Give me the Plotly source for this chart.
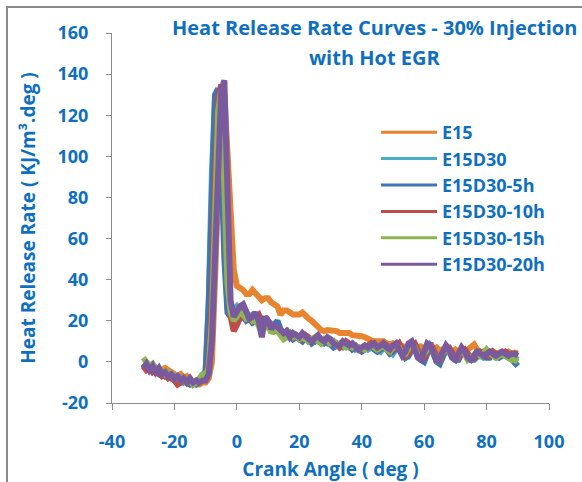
import plotly.graph_objects as go

crank_angle = list(range(-30, 91))

series_names = ["E15", "E15D30", "E15D30-5h", "E15D30-10h", "E15D30-15h", "E15D30-20h"]
series_colors = ["#E8832F", "#4BACC6", "#3F74B5", "#BE4B48", "#8DB553", "#7A5A9E"]

hrr_e15 = [
    -2, -3, -2, -4, -3, -5, -4, -3, -4, -5, -6, -7, -6, -8, -7, -9, -10, -11, -11, -10,
    -10, -8, 0, 40, 95, 128, 130, 105, 75, 45,
    37, 36, 35, 33, 33, 35, 33, 31, 30, 31,
    31, 29, 28, 27, 23, 25, 25, 24, 23, 23,
    23, 24, 22, 21, 20, 18, 17, 15.5, 15, 15.5,
    15.5, 15, 15, 14, 14, 13.5, 14, 13, 13, 13,
    12.5, 12, 11, 10.5, 10, 10, 9.5, 10, 9, 8.5,
    9, 8, 8.5, 8, 7, 8, 9, 7, 7, 7.5,
    6.5, 7, 7, 6, 7, 5.5, 6, 7, 6.5, 5,
    6, 5, 5.5, 5, 6, 7, 8.5, 6, 4, 5,
    5, 4.5, 5, 4, 4.5, 5, 4.5, 5, 4, 4.5,
    4,
]

hrr_e15d30 = [
    -1, -3, -2, -4, -5, -4, -6, -5, -7, -8, -7, -9, -8, -10, -9, -10, -11, -10, -9, -8,
    -4, 30, 92, 128, 132, 98, 48, 26, 24, 26,
    27, 25, 23, 24, 22, 23, 21, 20, 21, 19,
    20, 18, 17, 19, 15, 14, 13, 14, 12, 13,
    12, 11, 12, 10, 11, 10, 11, 9, 10, 9,
    10, 8, 9, 8, 7, 8, 7, 8, 6, 7,
    6, 7, 6, 7, 8, 6, 5, 7, 8, 6,
    4, 6, 8, 7, 4, 3, 6, 8, 6, 2,
    1, 5, 8, 6, 2, 0, 3, 6, 5, 2,
    1, 3, 5, 4, 2, 2, 3, 4, 3, 2,
    3, 4, 3, 2, 3, 4, 3, 2, 3, 2,
    1,
]

hrr_e15d30_5h = [
    -3, -2, -4, -3, -5, -6, -5, -7, -6, -8, -9, -8, -10, -9, -10, -11, -10, -11, -10, -8,
    -5, 28, 88, 130, 133, 100, 50, 24, 22, 24,
    23, 21, 22, 20, 21, 19, 20, 18, 17, 18,
    17, 16, 18, 20, 16, 13, 12, 13, 11, 12,
    11, 10, 12, 11, 9, 10, 11, 10, 9, 10,
    8, 7, 8, 7, 8, 9, 8, 6, 7, 6,
    5, 6, 7, 8, 6, 5, 6, 7, 6, 4,
    5, 7, 8, 5, 2, 3, 7, 8, 4, 1,
    0, 4, 8, 5, 0, -1, 3, 6, 6, 3,
    1, 1, 4, 5, 3, 1, 1, 3, 4, 3,
    2, 2, 4, 3, 2, 3, 4, 3, 1, 0,
    -2,
]

hrr_e15d30_10h = [
    -2, -4, -3, -5, -4, -6, -7, -6, -8, -7, -9, -11, -10, -8, -10, -9, -11, -10, -9, -9,
    -8, 0, 30, 90, 128, 135, 95, 40, 22, 15,
    18, 22, 25, 23, 21, 20, 22, 23, 19, 18,
    20, 17, 15, 16, 14, 13, 15, 14, 12, 13,
    12, 11, 13, 12, 10, 11, 12, 10, 11, 10,
    9, 10, 9, 7, 8, 10, 9, 7, 8, 7,
    6, 7, 8, 9, 7, 6, 7, 9, 8, 5,
    6, 8, 9, 6, 3, 4, 8, 9, 5, 2,
    2, 6, 9, 6, 2, 1, 4, 7, 7, 4,
    2, 2, 5, 6, 4, 2, 2, 4, 5, 4,
    3, 3, 5, 4, 3, 4, 5, 4, 3, 4,
    4,
]

hrr_e15d30_15h = [
    2, 0, -2, -1, -4, -3, -5, -6, -5, -7, -8, -7, -9, -8, -10, -9, -11, -10, -8, -6,
    -6, -3, 20, 75, 122, 132, 92, 38, 24, 20,
    22, 24, 23, 21, 22, 20, 21, 18, 14, 17,
    19, 14, 16, 15, 13, 11, 12, 13, 12, 13,
    11, 12, 11, 10, 11, 12, 10, 9, 11, 10,
    9, 10, 8, 9, 8, 7, 8, 7, 8, 6,
    7, 6, 7, 8, 7, 6, 7, 8, 6, 5,
    7, 8, 7, 4, 4, 7, 9, 7, 3, 2,
    4, 7, 8, 4, 1, 2, 5, 7, 5, 2,
    1, 3, 6, 4, 1, 2, 4, 5, 3, 4,
    6, 4, 3, 2, 3, 4, 3, 2, 1, 1,
    0,
]

hrr_e15d30_20h = [
    -3, -1, -4, -2, -5, -3, -6, -5, -7, -6, -8, -7, -9, -8, -10, -8, -10, -9, -10, -9,
    -9, -6, 10, 55, 105, 132, 137, 82, 30, 22,
    25, 27, 28, 24, 21, 22, 24, 20, 12, 22,
    20, 16, 18, 17, 15, 14, 15, 12, 14, 13,
    12, 14, 12, 11, 10, 12, 13, 11, 10, 12,
    11, 9, 8, 8, 10, 9, 8, 9, 7, 6,
    7, 8, 7, 8, 9, 7, 8, 9, 7, 6,
    8, 9, 6, 3, 5, 9, 10, 6, 2, 1,
    5, 9, 8, 3, 0, 2, 6, 8, 6, 2,
    1, 4, 7, 5, 2, 1, 3, 5, 4, 3,
    4, 5, 4, 3, 4, 5, 4, 3, 4, 4,
    3,
]

series_values = [hrr_e15, hrr_e15d30, hrr_e15d30_5h, hrr_e15d30_10h, hrr_e15d30_15h, hrr_e15d30_20h]

x_tick_vals = [-40, -20, 0, 20, 40, 60, 80, 100]
y_tick_vals = [-20, 0, 20, 40, 60, 80, 100, 120, 140, 160]

title_line1 = "Heat Release Rate Curves - 30% Injection"
title_line2 = "with Hot EGR"
x_title = "Crank Angle ( deg )"
y_title = "Heat Release Rate ( KJ/m³.deg )"

TEXT = "#0F6FBF"
FONT = "Open Sans"
AXIS = "#8C8C8C"

fig = go.Figure()
for name, color, vals in zip(series_names, series_colors, series_values):
    fig.add_trace(go.Scatter(
        x=crank_angle, y=vals, mode="lines", name=name,
        line=dict(color=color, width=6), showlegend=False, hoverinfo="skip",
    ))
for name, color in zip(series_names, series_colors):
    fig.add_trace(go.Scatter(
        x=[None], y=[None], mode="lines", name=name,
        line=dict(color=color, width=3), showlegend=True,
    ))

W, H = 582, 482
L, R, T, B = 112, 33, 33, 79
pw, ph = W - L - R, H - T - B

def px(xp):
    return (xp - L) / pw

def py(yp):
    return (H - B - yp) / ph

def bold(size):
    return dict(family=FONT, size=size, color=TEXT, weight="bold")

fig.update_layout(
    width=W, height=H,
    margin=dict(l=L, r=R, t=T, b=B, autoexpand=False),
    paper_bgcolor="white", plot_bgcolor="white",
    font=dict(family=FONT, color=TEXT, size=18),
    showlegend=True,
    legend=dict(
        x=px(376), y=py(114), xanchor="left", yanchor="top",
        bgcolor="rgba(0,0,0,0)", borderwidth=0,
        font=bold(18), itemwidth=56,
    ),
    xaxis=dict(
        range=[-40, 100], tickvals=x_tick_vals, ticktext=[str(v) for v in x_tick_vals],
        showgrid=False, zeroline=False, showline=True, linecolor=AXIS, linewidth=1,
        ticks="outside", ticklen=6, tickcolor=AXIS, ticklabelstandoff=16,
        tickfont=bold(18), automargin=False,
        title=dict(text=x_title, font=bold(19), standoff=13),
    ),
    yaxis=dict(
        range=[-20, 160], tickvals=y_tick_vals, ticktext=[str(v) for v in y_tick_vals],
        showgrid=False, zeroline=False, showline=True, linecolor=AXIS, linewidth=1,
        ticks="outside", ticklen=5, tickcolor=AXIS, ticklabelstandoff=14,
        tickfont=bold(18), automargin=False,
        title=dict(text=y_title, font=bold(19), standoff=16),
    ),
    annotations=[
        dict(text=title_line1, x=px(374), y=py(28), xref="paper", yref="paper",
             showarrow=False, xanchor="center", yanchor="middle", font=bold(20)),
        dict(text=title_line2, x=px(374), y=py(58), xref="paper", yref="paper",
             showarrow=False, xanchor="center", yanchor="middle", font=bold(20)),
    ],
    shapes=[
        dict(type="rect", xref="paper", yref="paper",
             x0=px(7), x1=px(600), y0=py(500), y1=py(7),
             line=dict(color="#8A8A8A", width=2), fillcolor="rgba(0,0,0,0)", layer="above"),
    ],
)

fig.write_html(
    "out.html",
    config={"displayModeBar": False},
    post_script="document.body.style.margin='0';document.body.style.overflow='hidden';",
)
